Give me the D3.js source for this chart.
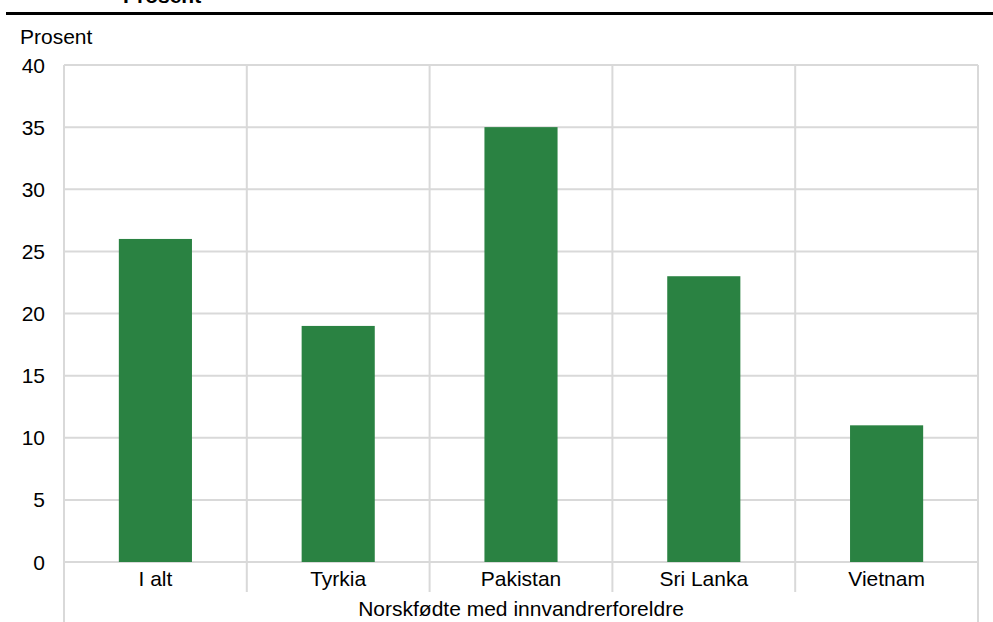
<!DOCTYPE html>
<html><head><meta charset="utf-8">
<script src="https://cdn.jsdelivr.net/npm/d3@7"></script>
<style>body{margin:0;background:#fff;}svg{display:block;font-family:"Liberation Sans",Arial,sans-serif;}</style>
</head><body><svg id="c" width="993" height="622"></svg>
<script>
const categories = ["I alt","Tyrkia","Pakistan","Sri Lanka","Vietnam"];
const values = [26,19,35,23,11];
const yTicks = [0,5,10,15,20,25,30,35,40];
const yLabel = "Prosent";
const xTitle = "Norskfødte med innvandrerforeldre";
const topTitle = "Prosent";

const svg = d3.select("#c");
const L = 64, R = 978, T = 65, B = 562;
const FS = 21;
const x = d3.scaleBand().domain(categories).range([L, R]).paddingInner(0).paddingOuter(0);
const y = d3.scaleLinear().domain([0, 40]).range([B, T]);
const grid = "#d9d9d9";

// top cut title and rule
svg.append("text").attr("x", 123).attr("y", 3).attr("font-size", FS).attr("font-weight", "bold").attr("fill", "#000").text(topTitle);
svg.append("line").attr("x1", 6).attr("x2", 993).attr("y1", 13.5).attr("y2", 13.5).attr("stroke", "#000").attr("stroke-width", 3);

// horizontal gridlines
svg.append("g").selectAll("line").data(yTicks).join("line")
  .attr("x1", L).attr("x2", R).attr("y1", d => y(d)).attr("y2", d => y(d))
  .attr("stroke", grid).attr("stroke-width", 2);

// vertical separators
const bounds = categories.map(c => x(c)).concat([x(categories[categories.length-1]) + x.bandwidth()]);
svg.append("g").selectAll("line").data(bounds).join("line")
  .attr("x1", d => d).attr("x2", d => d)
  .attr("y1", T).attr("y2", (d, i) => (i === 0 || i === bounds.length - 1) ? 622 : 592)
  .attr("stroke", grid).attr("stroke-width", 2);

// bars
const bw = x.bandwidth() * 0.4;
svg.append("g").selectAll("rect").data(values).join("rect")
  .attr("x", (d, i) => x(categories[i]) + (x.bandwidth() - bw) / 2)
  .attr("width", bw)
  .attr("y", d => y(d)).attr("height", d => y(0) - y(d))
  .attr("fill", "#2a8242");

// y tick labels
svg.append("g").selectAll("text").data(yTicks).join("text")
  .attr("x", 45).attr("y", d => y(d)).attr("dy", "0.36em").attr("text-anchor", "end")
  .attr("font-size", FS).attr("fill", "#000").text(d => d);

svg.append("text").attr("x", 20).attr("y", 44).attr("font-size", FS).attr("fill", "#000").text(yLabel);

// category labels
svg.append("g").selectAll("text").data(categories).join("text")
  .attr("x", d => x(d) + x.bandwidth() / 2).attr("y", 586).attr("text-anchor", "middle")
  .attr("font-size", FS).attr("fill", "#000").text(d => d);

svg.append("text").attr("x", (L + R) / 2).attr("y", 616).attr("text-anchor", "middle")
  .attr("font-size", FS).attr("fill", "#000").text(xTitle);
</script></body></html>
